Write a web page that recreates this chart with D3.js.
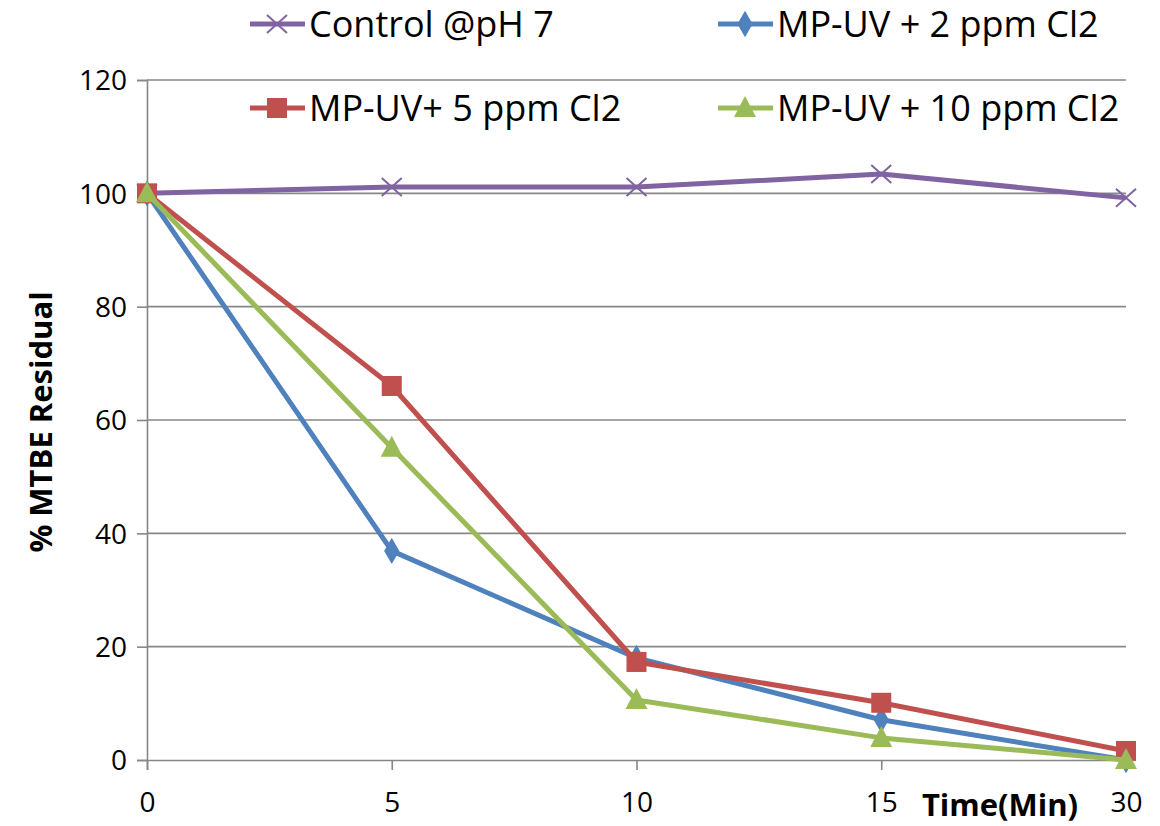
<!DOCTYPE html>
<html>
<head>
<meta charset="utf-8">
<script src="https://cdn.jsdelivr.net/npm/d3@7"></script>
<style>
  body { margin: 0; background: #fff; }
  text { font-family: "Open Sans", sans-serif; fill: #000; }
</style>
</head>
<body>
<div id="chart"></div>
<script>
// time points (categorical x axis)
var times = ["0", "5", "10", "15", "30"];
var yTicks = [0, 20, 40, 60, 80, 100, 120];

var seriesNames = ["Control @pH 7", "MP-UV + 2 ppm Cl2", "MP-UV+ 5 ppm Cl2", "MP-UV + 10 ppm Cl2"];
var control = [100, 101.1, 101.1, 103.4, 99.2];
var uv2 = [100, 36.9, 18.0, 7.1, 0];
var uv5 = [100, 66.0, 17.3, 10.1, 1.6];
var uv10 = [100, 55.1, 10.6, 3.9, 0];

var colors = ["#8064A2", "#4F81BD", "#C0504D", "#9BBB59"];
var markers = ["cross", "diamond", "square", "triangle"];

var W = 1160, H = 826;
var plotLeft = 147, plotRight = 1126, plotTop = 80, plotBottom = 760;

var svg = d3.select("#chart").append("svg")
    .attr("width", W)
    .attr("height", H);

var x = d3.scalePoint().domain(times).range([plotLeft, plotRight]);
var y = d3.scaleLinear().domain([0, 120]).range([plotBottom, plotTop]);

// gridlines
svg.append("g").selectAll("line")
    .data(yTicks.filter(function(d) { return d > 0; }))
    .enter().append("line")
    .attr("x1", plotLeft).attr("x2", plotRight)
    .attr("y1", function(d) { return y(d); })
    .attr("y2", function(d) { return y(d); })
    .attr("stroke", "#878787")
    .attr("stroke-width", 1.6);

// y axis
var yAxis = svg.append("g")
    .attr("transform", "translate(" + plotLeft + ",0)")
    .call(d3.axisLeft(y).tickValues(yTicks).tickSize(10).tickPadding(10));

// x axis
var xAxis = svg.append("g")
    .attr("transform", "translate(0," + plotBottom + ")")
    .call(d3.axisBottom(x).tickSize(10).tickPadding(22));

[yAxis, xAxis].forEach(function(ax) {
  ax.select(".domain").attr("stroke", "#868686").attr("stroke-width", 1.6);
  ax.selectAll(".tick line").attr("stroke", "#868686").attr("stroke-width", 1.6);
  ax.selectAll(".tick text")
    .style("font-family", "'Open Sans', sans-serif")
    .style("font-size", "28px")
    .attr("fill", "#000");
});
yAxis.selectAll(".tick text").attr("dy", "0.35em");

// axis titles
svg.append("text")
    .attr("transform", "translate(52," + 422 + ") rotate(-90)")
    .style("text-anchor", "middle")
    .style("font-size", "31px")
    .style("font-weight", "bold")
    .text("% MTBE Residual");

svg.append("text")
    .attr("x", 1000).attr("y", 816)
    .style("text-anchor", "middle")
    .style("font-size", "31px")
    .style("font-weight", "bold")
    .text("Time(Min)");

function drawMarker(g, type, color, cx, cy) {
  if (type == "diamond") {
    g.append("path")
      .attr("d", d3.symbol().type(d3.symbolDiamond).size(200)())
      .attr("transform", "translate(" + cx + "," + cy + ")")
      .attr("fill", color);
  } else if (type == "square") {
    g.append("rect")
      .attr("x", cx - 10).attr("y", cy - 10)
      .attr("width", 20).attr("height", 20)
      .attr("fill", color);
  } else if (type == "triangle") {
    g.append("path")
      .attr("d", "M0,-12L11,9L-11,9Z")
      .attr("transform", "translate(" + cx + "," + cy + ")")
      .attr("fill", color);
  } else {
    g.append("path")
      .attr("d", "M-10,-9L10,9M-10,9L10,-9")
      .attr("transform", "translate(" + cx + "," + cy + ")")
      .attr("stroke", color)
      .attr("stroke-width", 2);
  }
}

var allSeries = [control, uv2, uv5, uv10];
var line = d3.line()
    .x(function(d, i) { return x(times[i]); })
    .y(function(d) { return y(d); });

// draw in Excel order: control, uv2, uv5, uv10
allSeries.forEach(function(vals, s) {
  var g = svg.append("g");
  g.append("path")
    .datum(vals)
    .attr("d", line)
    .attr("fill", "none")
    .attr("stroke", colors[s])
    .attr("stroke-width", 5)
    .attr("stroke-linejoin", "round");
  vals.forEach(function(v, i) {
    drawMarker(g, markers[s], colors[s], x(times[i]), y(v));
  });
});

// legend
var legendPos = [[250, 24], [718, 24], [250, 108], [718, 108]];
seriesNames.forEach(function(name, s) {
  var g = svg.append("g");
  var lx = legendPos[s][0], ly = legendPos[s][1];
  g.append("line")
    .attr("x1", lx).attr("x2", lx + 55)
    .attr("y1", ly).attr("y2", ly)
    .attr("stroke", colors[s])
    .attr("stroke-width", 5);
  drawMarker(g, markers[s], colors[s], lx + 27, ly);
  g.append("text")
    .attr("x", lx + 59).attr("y", ly)
    .attr("dy", "0.35em")
    .style("font-size", "36px")
    .text(name);
});
</script>
</body>
</html>
